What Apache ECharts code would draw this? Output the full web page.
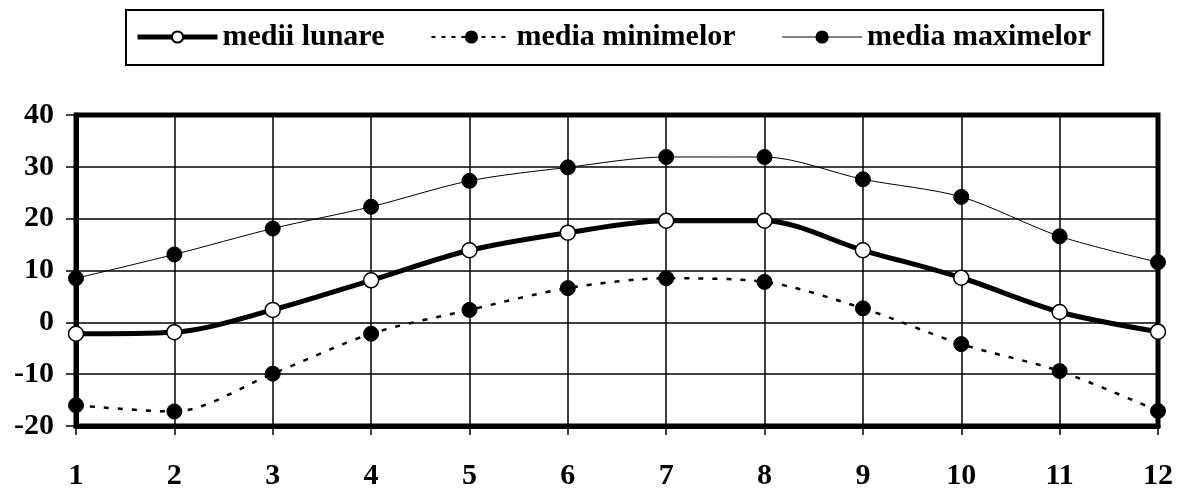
<!DOCTYPE html>
<html>
<head>
<meta charset="utf-8">
<script src="https://cdn.jsdelivr.net/npm/echarts@6/dist/echarts.min.js"></script>
<style>html,body{margin:0;padding:0;background:#fff}#c{width:1179px;height:491px}</style>
</head>
<body>
<div id="c"></div>
<script>
const months = ['1','2','3','4','5','6','7','8','9','10','11','12'];
const mediiLunare = [-2.2, -1.9, 2.4, 8.1, 13.9, 17.3, 19.6, 19.6, 13.9, 8.6, 2.0, -1.8];
const mediaMinimelor = [-16.0, -17.2, -9.9, -2.2, 2.4, 6.6, 8.5, 7.8, 2.7, -4.2, -9.4, -17.1];
const mediaMaximelor = [8.5, 13.1, 18.1, 22.3, 27.3, 29.9, 31.9, 31.9, 27.6, 24.2, 16.6, 11.6];
const yTicks = {min: -20, max: 40, interval: 10};

const FONT = '"Liberation Serif", "Times New Roman", serif';
const chart = echarts.init(document.getElementById('c'), null, {renderer: 'canvas'});
chart.setOption({
  animation: false,
  backgroundColor: '#fff',
  legend: {
    left: 126, top: 10,
    padding: [12, 12, 13, 9],
    borderColor: '#000', borderWidth: 2,
    itemWidth: 80, itemHeight: 14, itemGap: 46,
    textStyle: {fontFamily: FONT, fontWeight: 'bold', fontSize: 30, color: '#000'},
    data: [
      {name: 'medii lunare', lineStyle: {width: 5, color: '#000'}},
      {name: 'media minimelor', lineStyle: {width: 2, color: '#000', type: [4, 6]}},
      {name: 'media maximelor', lineStyle: {width: 1, color: '#000'}}
    ]
  },
  grid: {
    left: 76, right: 21, top: 115, bottom: 63,
    show: true, borderColor: '#000', borderWidth: 5, containLabel: false
  },
  xAxis: {
    type: 'category', data: months, boundaryGap: false,
    axisLine: {show: true, onZero: false, lineStyle: {color: '#000', width: 5}},
    axisTick: {show: true, inside: false, length: 9, alignWithLabel: true, lineStyle: {color: '#000', width: 1.5}},
    axisLabel: {margin: 35, fontFamily: FONT, fontWeight: 'bold', fontSize: 30, color: '#000'},
    splitLine: {show: true, lineStyle: {color: '#000', width: 1.5}}
  },
  yAxis: {
    type: 'value', min: yTicks.min, max: yTicks.max, interval: yTicks.interval,
    axisLine: {show: true, lineStyle: {color: '#000', width: 5}},
    axisTick: {show: true, inside: false, length: 10, lineStyle: {color: '#000', width: 1.5}},
    axisLabel: {margin: 22, fontFamily: FONT, fontWeight: 'bold', fontSize: 30, color: '#000'},
    splitLine: {show: true, lineStyle: {color: '#000', width: 1.5}}
  },
  series: [
    {
      name: 'media maximelor', type: 'line', data: mediaMaximelor, smooth: 0.3,
      symbol: 'circle', symbolSize: 15,
      lineStyle: {color: '#000', width: 1},
      itemStyle: {color: '#000', borderColor: '#000', borderWidth: 1}
    },
    {
      name: 'media minimelor', type: 'line', data: mediaMinimelor, smooth: 0.3,
      symbol: 'circle', symbolSize: 15,
      lineStyle: {color: '#000', width: 2.5, type: [5, 9]},
      itemStyle: {color: '#000', borderColor: '#000', borderWidth: 1}
    },
    {
      name: 'medii lunare', type: 'line', data: mediiLunare, smooth: 0.3,
      symbol: 'circle', symbolSize: 15,
      lineStyle: {color: '#000', width: 5},
      itemStyle: {color: '#fff', borderColor: '#000', borderWidth: 1.5}
    }
  ]
});
</script>
</body>
</html>
